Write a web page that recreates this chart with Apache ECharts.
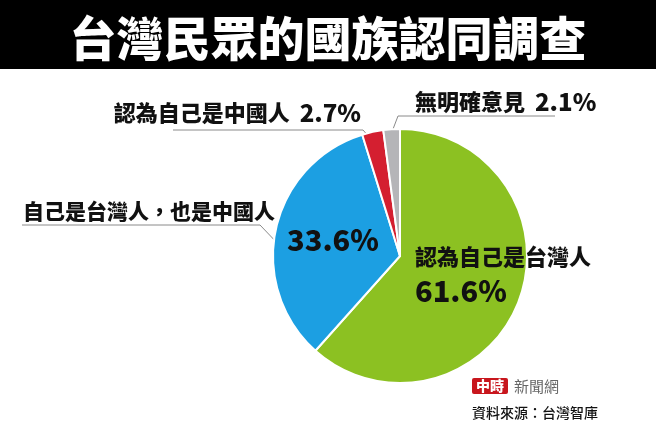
<!DOCTYPE html>
<html>
<head>
<meta charset="utf-8">
<script src="https://cdn.jsdelivr.net/npm/echarts@6/dist/echarts.min.js"></script>
<style>
html,body{margin:0;padding:0;background:#fff;}
#main{width:656px;height:437px;}
</style>
</head>
<body>
<div id="main"></div>
<script>
const titleText = '台灣民眾的國族認同調查';
const categories = ['認為自己是台灣人', '自己是台灣人，也是中國人', '認為自己是中國人', '無明確意見'];
const shares = [61.6, 33.6, 2.7, 2.1];
const sourceText = '資料來源：台灣智庫';

const palette = ['#8cc122', '#1c9fe2', '#d41f30', '#b5b5b8'];
const FONT = '"Noto Sans CJK TC", "Noto Sans", sans-serif';
const CX = 400, CY = 256, R = 127;
function edgePt(deg, r) {
  const a = deg * Math.PI / 180;
  return [CX + r * Math.sin(a), CY - r * Math.cos(a)];
}
const outerLayout = {
  0: { x: 415, y: 241, align: 'left', verticalAlign: 'top' },
  1: { x: 23, y: 211, align: 'left', verticalAlign: 'middle', line: [edgePt(277, 126), [260, 225], [22, 225]] },
  2: { x: 361, y: 113, align: 'right', verticalAlign: 'middle', line: [edgePt(345, 125), [363, 130], [173, 130]] },
  3: { x: 415, y: 102, align: 'left', verticalAlign: 'middle', line: [edgePt(356, 123), [398, 116], [555, 116]] }
};

const chart = echarts.init(document.getElementById('main'), null, { renderer: 'canvas' });

const mainData = categories.map((c, i) => ({
  name: c,
  value: shares[i],
  itemStyle: { color: palette[i] },
  label: { show: true },
  labelLine: { show: i !== 0 }
}));
const innerData = categories.map((c, i) => ({
  name: c,
  value: shares[i],
  label: { show: i === 1 }
}));

chart.setOption({
  animation: false,
  backgroundColor: '#ffffff',
  graphic: [
    { type: 'rect', z: -10, shape: { x: 0, y: 0, width: 656, height: 69 }, style: { fill: '#000000' } },
    { type: 'text', z: 10, style: { text: titleText, x: 328, y: 38, fill: '#ffffff',
        font: '900 47px ' + FONT, textAlign: 'center', textVerticalAlign: 'middle', align: 'center', verticalAlign: 'middle' } },
    { type: 'rect', z: 10, shape: { x: 472, y: 378, width: 36, height: 16, r: 2 }, style: { fill: '#c8161d' } },
    { type: 'text', z: 11, style: { text: '中時', x: 490, y: 386, fill: '#ffffff',
        font: '900 14px ' + FONT, textAlign: 'center', textVerticalAlign: 'middle', align: 'center', verticalAlign: 'middle' } },
    { type: 'text', z: 10, style: { text: '新聞網', x: 514, y: 386, fill: '#666666',
        font: '15px ' + FONT, textAlign: 'left', textVerticalAlign: 'middle', align: 'left', verticalAlign: 'middle' } },
    { type: 'text', z: 10, style: { text: sourceText, x: 472, y: 413, fill: '#111111',
        font: '500 14px ' + FONT, textAlign: 'left', textVerticalAlign: 'middle', align: 'left', verticalAlign: 'middle' } }
  ],
  series: [
    {
      type: 'pie',
      center: [CX, CY],
      radius: R,
      startAngle: 90,
      clockwise: true,
      avoidLabelOverlap: false,
      silent: true,
      itemStyle: { borderColor: '#ffffff', borderWidth: 2 },
      label: {
        show: true,
        position: 'outside',
        fontFamily: FONT,
        color: '#111111',
        formatter: function (p) {
          const i = p.dataIndex;
          if (i === 0) return '{n|' + categories[0] + '}\n{v|' + shares[0] + '%}';
          if (i === 1) return '{n2|' + categories[1] + '}';
          return '{n|' + categories[i] + '}{s| }{v2|' + shares[i] + '%}';
        },
        rich: {
          n: { fontFamily: FONT, fontSize: 22, fontWeight: 900, color: '#111111', lineHeight: 32 },
          n2: { fontFamily: FONT, fontSize: 21, fontWeight: 900, color: '#111111', lineHeight: 30 },
          s: { fontFamily: FONT, fontSize: 22, width: 10 },
          v: { fontFamily: FONT, fontSize: 29, fontWeight: 900, color: '#111111', lineHeight: 36 },
          v2: { fontFamily: FONT, fontSize: 24, fontWeight: 900, color: '#111111', lineHeight: 30 }
        }
      },
      labelLine: { show: true, smooth: false, lineStyle: { color: '#8a8a8a', width: 1 } },
      labelLayout: function (params) {
        const L = outerLayout[params.dataIndex];
        const out = { x: L.x, y: L.y, align: L.align, verticalAlign: L.verticalAlign };
        if (L.line) out.labelLinePoints = L.line;
        return out;
      },
      data: mainData
    },
    {
      type: 'pie',
      center: [CX, CY],
      radius: R,
      startAngle: 90,
      clockwise: true,
      silent: true,
      avoidLabelOverlap: false,
      itemStyle: { color: 'rgba(0,0,0,0)', borderWidth: 0 },
      label: {
        show: false,
        position: 'inside',
        fontFamily: FONT,
        fontSize: 29,
        fontWeight: 900,
        color: '#111111',
        formatter: function (p) { return shares[p.dataIndex] + '%'; }
      },
      labelLine: { show: false },
      labelLayout: function (params) {
        return { x: 333, y: 240, align: 'center', verticalAlign: 'middle' };
      },
      data: innerData
    }
  ]
});
</script>
</body>
</html>
